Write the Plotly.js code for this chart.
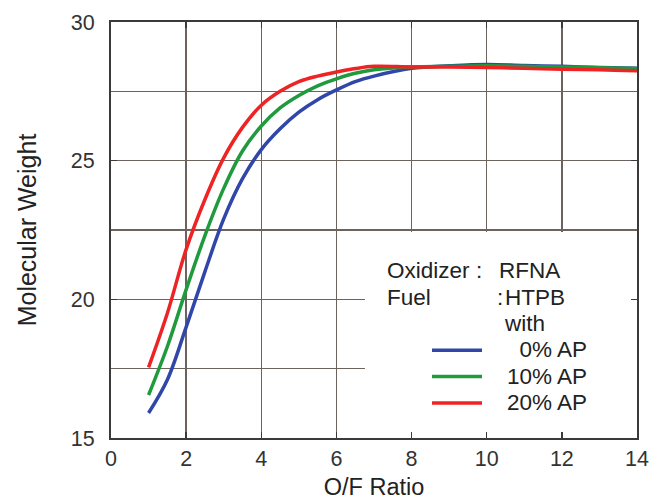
<!DOCTYPE html>
<html>
<head>
<meta charset="utf-8">
<script src="https://cdn.plot.ly/plotly-3.0.1.min.js"></script>
<style>html,body{margin:0;padding:0;background:#fff;}#chart{width:667px;height:500px;}</style>
</head>
<body>
<div id="chart"></div>
<script>
// O/F ratio values
const ofRatio = [1, 1.5, 2, 2.5, 3, 3.5, 4, 4.5, 5, 5.5, 6, 6.5, 7, 8, 9, 10, 11, 12, 13, 14];
// Molecular weight per series
const mw0AP  = [15.9, 17.1, 19.0, 21.0, 22.9, 24.35, 25.4, 26.15, 26.75, 27.2, 27.55, 27.85, 28.05, 28.33, 28.42, 28.47, 28.43, 28.4, 28.36, 28.33];
const mw10AP = [16.55, 18.3, 20.35, 22.3, 24.0, 25.35, 26.25, 26.9, 27.35, 27.7, 27.95, 28.15, 28.28, 28.38, 28.4, 28.42, 28.4, 28.38, 28.35, 28.32];
const mw20AP = [17.55, 19.5, 21.8, 23.6, 25.1, 26.2, 27.0, 27.5, 27.85, 28.05, 28.2, 28.32, 28.4, 28.38, 28.38, 28.36, 28.33, 28.3, 28.28, 28.24];
const seriesLabels = ['\u20070% AP', '10% AP', '20% AP'];
const seriesColors = ['#3046a8', '#1f9a3c', '#ee2424'];
const xTickVals = [0, 2, 4, 6, 8, 10, 12, 14];
const yTickVals = [15, 20, 25, 30];

const FONT = 'Liberation Sans, Arial, sans-serif';
const W = 667, H = 500, L = 111, R = 30, T = 22, B = 62;
const pw = W - L - R, ph = H - T - B;
const px = x => (x - L) / pw;
const py = y => (H - B - y) / ph;

const seriesY = [mw0AP, mw10AP, mw20AP];
const traces = seriesY.map((ys, i) => ({
  x: ofRatio, y: ys, type: 'scatter', mode: 'lines',
  name: '\u00a0\u00a0\u00a0\u00a0<span style="font-size:22.5px">' + seriesLabels[i] + '</span>',
  line: {color: seriesColors[i], width: 3.5, shape: 'spline', smoothing: 1}
}));

const gridColor = '#6e625e';
const axisColor = '#3a3a3a';

const textAnn = (text, x, y) => ({
  text, xref: 'paper', yref: 'paper', x: px(x), y: py(y),
  xanchor: 'left', yanchor: 'middle', showarrow: false,
  font: {family: FONT, size: 22.5, color: '#222'}
});

const layout = {
  width: W, height: H,
  margin: {l: L, r: R, t: T, b: B},
  paper_bgcolor: '#fff', plot_bgcolor: '#fff',
  font: {family: FONT, size: 21, color: '#333'},
  showlegend: true,
  legend: {
    x: px(427), y: py(332), xanchor: 'left', yanchor: 'top',
    bgcolor: 'rgba(0,0,0,0)', font: {family: FONT, size: 18, color: '#222'},
    itemwidth: 50, tracegroupgap: 0
  },
  xaxis: {
    range: [0, 14], tickvals: xTickVals, ticktext: xTickVals.map(String),
    showgrid: true, gridcolor: gridColor, gridwidth: 1.5,
    zeroline: false, showline: true, linecolor: axisColor, linewidth: 2, mirror: 'ticks',
    ticks: 'inside', ticklen: 6, tickcolor: axisColor, tickwidth: 1.5,
    tickfont: {family: FONT, size: 21.5, color: '#333'},
    ticklabelstandoff: 0,
    title: {text: 'O/F Ratio', font: {family: FONT, size: 23.5, color: '#222'}, standoff: 10}
  },
  yaxis: {
    range: [15, 30], tickvals: yTickVals, ticktext: yTickVals.map(String),
    showgrid: true, gridcolor: gridColor, gridwidth: 1.5,
    minor: {dtick: 2.5, tick0: 15, showgrid: true, gridcolor: gridColor, gridwidth: 1.5, ticks: ''},
    zeroline: false, showline: true, linecolor: axisColor, linewidth: 2, mirror: 'ticks',
    ticks: 'inside', ticklen: 6, tickcolor: axisColor, tickwidth: 1.5,
    tickfont: {family: FONT, size: 21.5, color: '#333'},
    ticklabelstandoff: 10,
    title: {text: 'Molecular Weight', font: {family: FONT, size: 25, color: '#222'}, standoff: 27}
  },
  shapes: [{
    type: 'rect', layer: 'between', xref: 'x', yref: 'y',
    x0: 6.76, x1: 14, y0: 15, y1: 22.43,
    fillcolor: '#ffffff', line: {width: 0}
  }],
  annotations: [
    textAnn('Oxidizer', 385, 270),
    textAnn(':', 474, 270),
    textAnn('RFNA', 497, 270),
    textAnn('Fuel', 385, 297),
    textAnn(':', 495, 297),
    textAnn('HTPB', 503, 297),
    textAnn('with', 502, 323)
  ]
};

Plotly.newPlot('chart', traces, layout, {displayModeBar: false, staticPlot: true});
</script>
</body>
</html>
